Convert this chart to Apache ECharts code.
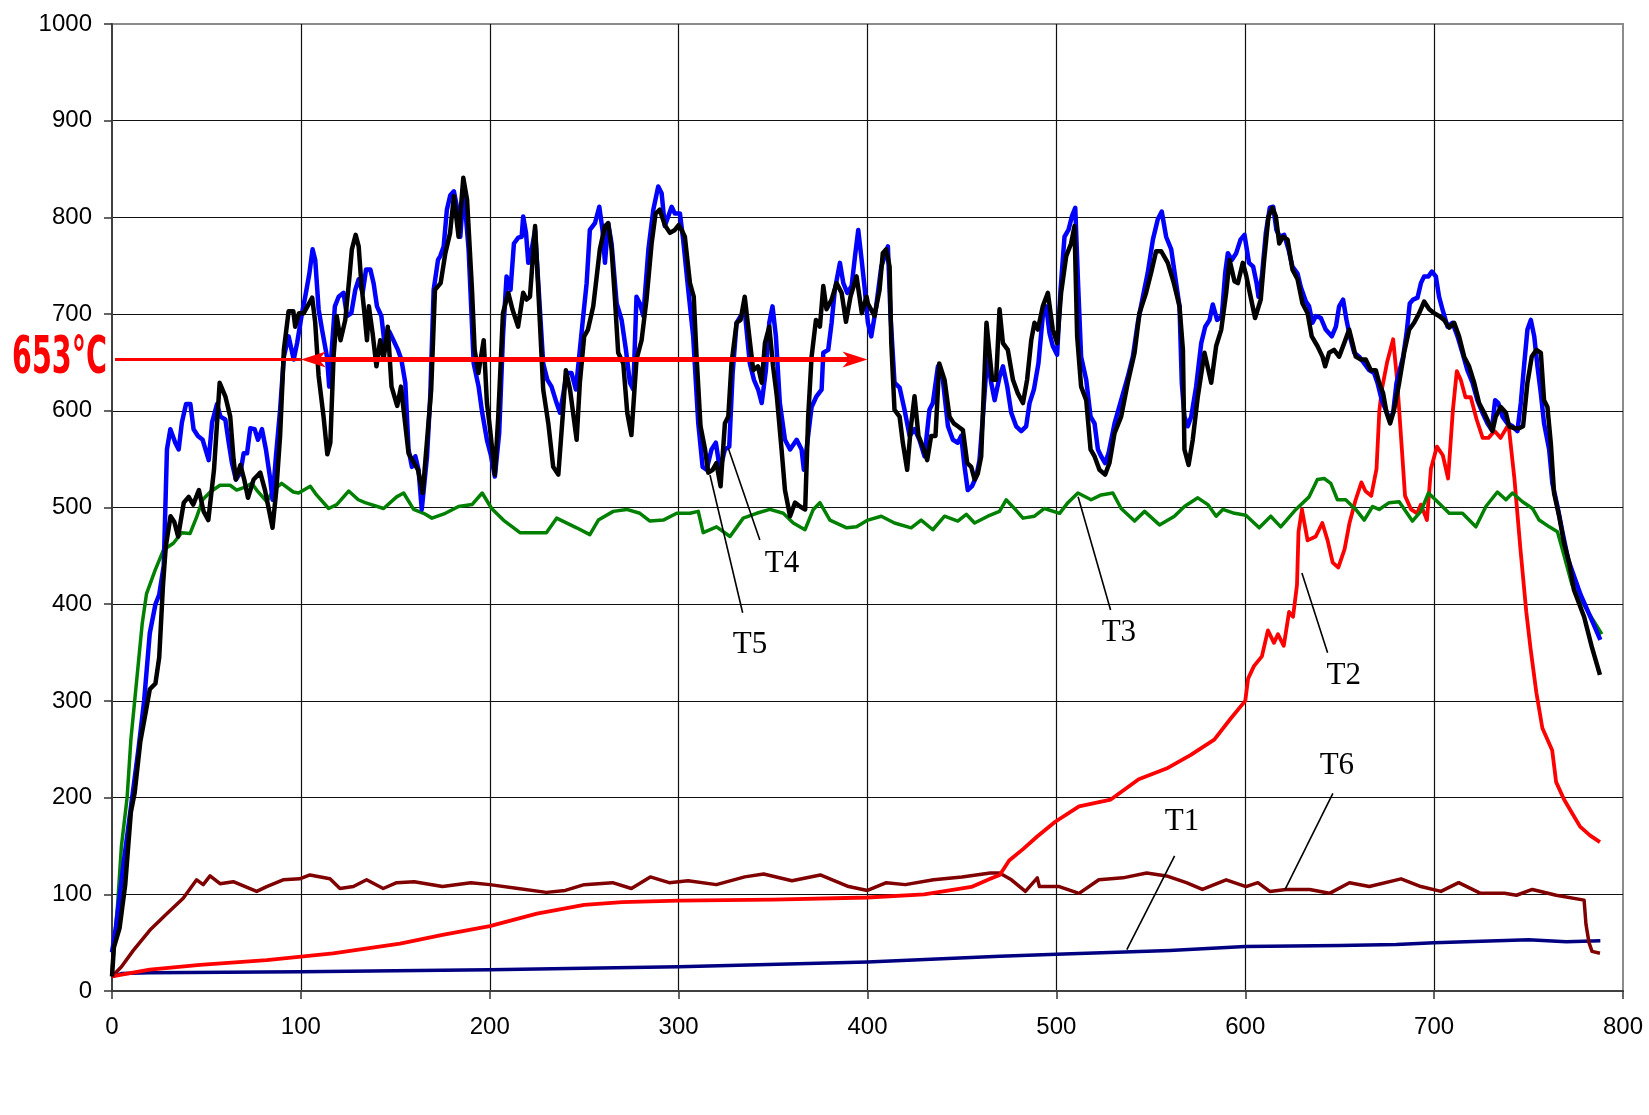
<!DOCTYPE html>
<html>
<head>
<meta charset="utf-8">
<title>Temperature record</title>
<script src="https://cdn.jsdelivr.net/npm/echarts@6/dist/echarts.min.js"></script>
<style>
  html, body { margin: 0; padding: 0; background: #fff; }
  #chart { width: 1649px; height: 1115px; }
</style>
</head>
<body>
<div id="chart"></div>
<script>
// Axis ranges and ticks (time in s, temperature in °C)
const X_TICKS = [0, 100, 200, 300, 400, 500, 600, 700, 800];
const Y_TICKS = [0, 100, 200, 300, 400, 500, 600, 700, 800, 900, 1000];

// Thermocouple readings: [time, temperature]
const T1 = [[0,15],[5,18],[20,19],[100,20],[200,22],[300,25],[400,30],[470,36],[500,38],[560,42],[600,46],[650,47],[680,48],[700,50],[750,53],[770,51],[788,52]];

const T6 = [[0,15],[5,25],[11.3,42],[20.1,63],[29,80],[37.7,96],[44.8,115],[48.3,110],[51.9,119],[57.2,111],[64.2,113],[76.6,103],[81.9,108],[90.6,115],[99.4,116],[104.8,120],[115.4,116],[120.7,106],[127.8,108],[134.8,115],[143.6,106],[150.7,112],[160,113],[175,108],[190,112],[200,110],[215,106],[230,102],[240,104],[250,110],[265,112],[275,106],[285,118],[295,112],[305,114],[320,110],[335,118],[345,121],[360,114],[375,120],[390,108],[400,104],[410,112],[420,110],[435,115],[450,118],[465,122],[469.9,122],[476.2,115],[483.6,103],[489.9,117],[491,108],[501.5,108],[512,101],[522.5,115],[535.2,117],[547.8,122],[558.3,119],[568.8,112],[577.3,105],[589.9,115],[600.4,108],[606.7,112],[613,103],[621.5,105],[634.1,105],[644.6,101],[655.2,112],[665.7,108],[682.5,116],[693,108],[703.6,103],[713,112],[724.6,101],[737.3,101],[743.6,99],[752,105],[764.6,99],[779.4,94],[780.4,69],[782,50],[783.6,41],[787.8,39]];

const T2 = [[0,15],[20,22],[46.6,27],[81.9,32],[117,39],[152.5,49],[175,58],[200,67],[225,80],[250,89],[270,92],[300,93.5],[350,94.5],[400,96.7],[430,100],[455,107.6],[465,116],[470,120],[475,135],[482.5,147],[490,160],[499.4,175],[512,191],[528.8,198],[543.6,219],[558.3,230],[571,244],[583.6,260],[592,281],[600,300],[601.5,323],[604.6,336],[608.8,346],[612,373],[615.2,360],[617.3,369],[620.4,357],[623.2,392],[625.3,387],[627.4,420],[628.2,475],[630,498],[633,466],[637.3,470],[640.8,484],[643.6,466],[646.3,443],[649.3,438],[652.6,457],[655.2,484],[658.3,507],[661.5,526],[663.6,517],[666.7,512],[669.5,540],[671,600],[672.4,623],[675.2,651],[678.3,674],[680.4,632],[683,558],[684.6,512],[687.8,498],[691,494],[693,503],[696.2,487],[698.3,540],[701.5,563],[704.6,554],[707.4,530],[709.9,600],[712,641],[714.1,632],[716.6,614],[719.4,614],[722.5,591],[725.7,572],[728.8,572],[732,579],[735.2,572],[739.4,586],[742.5,530],[745.7,457],[748.8,392],[751,355],[754.1,309],[757.3,272],[762.5,249],[764.6,216],[768.8,198],[773,184],[777.3,170],[782.5,161],[787.8,154]];

const T3 = [[0,20],[3,90],[5,150],[8,200],[10,260],[13,320],[16,380],[18.3,411],[22.8,435],[27.2,456],[32.5,463],[36.9,474],[41.3,473],[44.8,490],[48,508],[52,516],[57.2,523],[62.5,523],[66,518],[70.4,521],[74,525],[76.6,518],[81.9,506],[85.4,518],[89.8,525],[96,516],[98.8,515],[105,522],[108.3,513],[114.7,499],[119,503],[125.3,517],[130.4,508],[134,505],[143.8,499],[150.7,511],[154.4,515],[159.7,498],[165,494],[169.4,489],[176.5,494],[183.5,501],[190.6,503],[196,515],[201,499],[207.2,487],[216,474],[223,474],[230,474],[235.4,489],[246,479],[253,472],[257.5,487],[265.4,496],[272.5,498],[279.5,494],[284.8,486],[291.9,487],[299,494],[306,494],[310.4,496],[313,474],[320.1,480],[327.2,470],[334.2,489],[341.3,494],[348.3,498],[355.4,494],[360.7,484],[366.9,477],[371.3,498],[374.8,505],[380.1,487],[389,479],[394.2,480],[400.2,487],[407.3,491],[414.3,484],[423.1,479],[428.4,487],[434.6,477],[440.8,491],[447.8,486],[452.3,493],[456.7,484],[463.7,491],[469.9,496],[473.4,508],[477.8,499],[482.3,489],[488.4,491],[493.7,499],[501.7,494],[506.1,505],[511.4,515],[518.4,508],[523.7,513],[529.9,515],[534.3,499],[541.4,486],[546.7,496],[554.6,482],[562.5,491],[567.8,501],[574.9,510],[580.2,503],[584.6,491],[588.1,498],[594.3,494],[600.3,492],[607.4,479],[613.5,491],[618.8,480],[626.8,498],[633.8,511],[638.2,529],[641.8,530],[645.3,525],[648.8,508],[653.2,508],[658.5,498],[663,487],[667.4,501],[670.9,498],[676.2,505],[681.5,506],[688.5,486],[693,496],[697,515],[701.8,506],[708,494],[715,494],[722.1,480],[727.4,501],[733.5,516],[738,508],[741.5,515],[746.8,506],[752.1,499],[755.6,487],[761,480],[765.3,475],[768,456],[773,420],[781.5,392],[788.8,369]];

const T4 = [[0,40],[2,65],[6,130],[10,190],[14,250],[17,300],[20,370],[23,400],[25,410],[27.4,440],[29.1,560],[30.9,581],[33.5,567],[35.3,560],[37,588],[39.2,607],[41.5,607],[43.2,581],[45.5,574],[48,570],[51.2,549],[53,588],[55.6,607],[57.4,594],[60,591],[61.8,567],[63.5,546],[65.6,529],[68,536],[69.7,556],[71.5,556],[73.2,582],[75.5,581],[77.3,570],[79.4,581],[81.5,560],[83.8,529],[85,508],[86.8,553],[89,601],[91,656],[93.5,677],[96.2,653],[98,670],[100.6,701],[102.3,718],[104.5,742],[106.2,767],[107.6,756],[109.4,705],[111.2,684],[113.8,656],[115,625],[116.5,667],[118,708],[120,718],[122.6,722],[124.4,698],[126.7,701],[128.8,725],[130.6,736],[132.7,722],[134.5,746],[136.8,746],[138.5,732],[140.3,708],[142.6,698],[144.7,663],[146.8,682],[149,673],[151.4,663],[153.2,653],[155.3,629],[157,560],[158.8,542],[160.6,553],[162.3,539],[164,498],[166.8,553],[168.5,615],[170.3,725],[172.6,756],[173.8,760],[175.6,770],[177.3,808],[179.1,823],[181,827],[182.6,811],[184.4,780],[186.2,829],[188.8,767],[191.5,649],[194.1,625],[196,598],[198.5,570],[200.5,555],[202.7,532],[205,577],[207,677],[208.9,739],[211,725],[212.8,773],[215.1,779],[216.9,780],[217.7,801],[219.2,784],[220.4,753],[222.2,767],[224,787],[225.7,732],[228.3,649],[230.5,632],[232.7,625],[235.4,608],[237.2,598],[239,618],[240.7,639],[243.3,639],[245.6,622],[247.7,663],[249.5,698],[251.3,732],[253,787],[255.7,794],[258,811],[259.7,787],[261,753],[262.7,794],[264.5,773],[267.2,711],[269.8,694],[272.1,663],[274.2,629],[276,622],[277.7,718],[279.5,711],[281.3,698],[284,767],[286.6,808],[289.2,832],[291,825],[292.7,791],[294.5,801],[296.3,811],[298,804],[300.7,804],[302.4,777],[305.1,725],[307.7,677],[310.4,587],[312.7,542],[314.8,539],[317.4,560],[319.7,567],[321.9,539],[324.5,560],[326.8,563],[328.6,639],[330.7,691],[332.8,698],[335.1,701],[337.7,649],[339.9,632],[342.1,622],[344,608],[346.2,642],[348,691],[349.7,708],[351.5,677],[353.6,608],[356.3,570],[359,560],[362.5,570],[365.1,560],[366.3,539],[367.7,560],[370.4,604],[373,615],[375.7,622],[376.6,660],[379.2,663],[381,691],[382.7,725],[385.4,753],[387.2,732],[389.3,722],[391.6,729],[393.4,760],[395.1,787],[396.9,756],[398.6,725],[400.2,691],[402,677],[404.6,708],[407.3,749],[410.8,770],[412.2,698],[414.3,629],[417,624],[419.6,601],[422.3,574],[424.9,581],[427.5,570],[430.2,553],[432.8,601],[434.6,608],[437.3,646],[439.9,632],[442.6,584],[445.2,570],[447.8,567],[449.6,574],[451.4,542],[453.1,518],[455.3,522],[457.6,532],[459.3,549],[461.1,594],[463.4,656],[465.5,629],[467.3,611],[469.9,635],[471.7,646],[474,625],[476.1,598],[478.7,584],[481.4,579],[484,584],[485.8,608],[488.1,622],[490.5,649],[492.8,698],[494.6,708],[496.4,680],[498.1,667],[500.4,658],[502.2,725],[504.3,780],[506.4,787],[508.2,801],[510,810],[511.4,736],[513.1,656],[515.8,632],[518.1,594],[520.2,587],[522,560],[523.7,553],[525.8,546],[527.6,556],[530.8,587],[534.3,611],[537.8,635],[540.5,656],[543.1,691],[545.8,718],[548.4,743],[551.1,777],[553.7,798],[555.8,806],[558.1,780],[560.8,767],[563.4,732],[565.2,708],[566.4,629],[567.8,594],[569.6,584],[571.4,594],[574,625],[576.7,670],[578.8,687],[581.1,694],[582.8,710],[585.1,694],[587.6,698],[589.4,743],[590.8,763],[592.9,756],[595.2,763],[597.5,777],[599.6,782],[602,753],[604.2,749],[606,732],[607,718],[608.8,739],[610.9,784],[613,810],[614.8,811],[616.5,787],[618.3,780],[620.6,782],[622.9,767],[625,749],[627.7,742],[629.4,728],[632.1,713],[633.8,708],[635.6,691],[637.4,698],[640,696],[642.6,684],[645.8,677],[648,687],[649.7,708],[651.8,715],[653.6,694],[655.4,677],[657.7,660],[660.3,656],[663,649],[665.6,642],[668.2,639],[670,629],[672.3,611],[674.4,601],[676.5,591],[678.3,598],[680.1,629],[681.8,642],[683.6,656],[685.4,680],[687.1,711],[688.9,715],[691.2,717],[693,732],[694.7,739],[697,739],[698.8,744],[700.9,739],[702.6,718],[704.4,705],[707.1,687],[709.7,691],[712.4,677],[715,660],[717.6,642],[720.3,629],[722.9,611],[725.6,598],[728.2,587],[730.5,580],[732.3,611],[734,608],[736.2,594],[738.8,587],[741.5,584],[744.1,579],[745.9,608],[747.6,646],[749.4,684],[751.2,694],[753,677],[754.7,646],[756.5,618],[758.2,587],[760.9,560],[762.6,525],[765.3,501],[768,474],[771,446],[777.5,410],[783.6,383],[788,363]];

const T5 = [[0,15],[1,45],[4,65],[7,110],[10,185],[12,205],[15,258],[18,290],[20,312],[23,318],[25,345],[27,420],[28.5,460],[31,491],[33,485],[35,470],[38,505],[40.6,511],[43,503],[46,518],[48.5,496],[51,487],[54,539],[57,629],[60,615],[62.6,594],[64.4,549],[65.6,529],[68,544],[70,529],[72,510],[75,529],[78.5,536],[81,518],[85,479],[87,518],[89,574],[91,663],[93.5,703],[96,703],[97,687],[99,701],[101.5,701],[106,717],[107.6,691],[109.4,636],[112,594],[114,555],[115.6,567],[117.3,656],[119,698],[121,673],[123.5,694],[125.6,736],[127,767],[129,782],[130.6,770],[132,732],[133.8,698],[135,673],[136,708],[138,680],[140,646],[142,673],[143.8,653],[146,687],[148,625],[151,605],[153,625],[157,556],[160,546],[162,539],[164.5,515],[167,574],[169,622],[171,725],[174,732],[176.5,763],[179,784],[181,822],[183.5,780],[186,841],[188,818],[190.6,725],[192,663],[194,639],[196.8,673],[198.5,608],[200,584],[202.7,534],[204.5,594],[207,701],[209.8,722],[212,705],[215,687],[217.7,722],[219.5,715],[221.3,718],[224,791],[225.7,725],[228.3,622],[231,587],[233.6,542],[236.3,534],[238.6,594],[240.3,642],[242.5,622],[246,570],[247.7,629],[250,677],[252,684],[254.8,708],[258.3,767],[261,791],[262.7,794],[264.5,767],[266.3,715],[268,660],[270.7,649],[272.8,598],[275,575],[277.7,653],[280.4,673],[283,715],[285.7,773],[287.8,804],[290,808],[292.7,792],[295.4,784],[298,787],[300,792],[301.6,787],[303.3,780],[306,732],[308,718],[309.5,656],[311.6,584],[314,560],[315.7,536],[318,539],[320,546],[322.2,522],[324.5,587],[326.3,594],[328,649],[330.7,691],[332.8,694],[335,718],[337.4,677],[339.5,642],[342,646],[344,629],[345.7,670],[348,687],[350,646],[352,615],[354.5,560],[356.3,518],[359,491],[361.6,505],[364.3,501],[367,498],[368.6,594],[370.4,656],[372.7,694],[374.8,687],[376.6,729],[378.3,705],[381,715],[383.6,732],[386.3,722],[388.6,692],[391,718],[394.2,739],[397,701],[399.5,718],[400.2,711],[403.7,698],[406.4,725],[408.1,763],[409.9,767],[411.7,749],[412.6,670],[414.3,601],[417,594],[418.7,567],[421,539],[423,584],[424.9,615],[427,574],[429.3,563],[431.6,549],[433.7,574],[436,574],[438,649],[440.8,632],[443.4,594],[445.7,587],[447.8,584],[450.5,580],[452.8,546],[454.9,542],[456.7,529],[458.4,535],[460.2,553],[463,691],[464,692],[466,632],[468.1,632],[469.9,705],[471.7,670],[474.3,663],[477,632],[479.6,618],[482.3,608],[484.5,632],[486.7,673],[488.4,691],[490.2,684],[492.8,708],[495.5,722],[498.1,684],[500.4,670],[502.5,722],[505.2,760],[507.8,773],[509.6,791],[511,677],[513.1,625],[515.8,611],[518.1,560],[520.2,553],[522.8,539],[525.8,534],[528.1,546],[530.8,577],[534.3,594],[537.8,629],[541.4,660],[544,701],[547.5,722],[550.2,743],[552.8,765],[555.5,765],[559,753],[562.2,732],[565.2,708],[567,663],[567.8,560],[570,544],[572.2,570],[574.9,615],[578.4,660],[582,629],[584.6,667],[587.3,684],[589.9,722],[591.7,756],[594.3,734],[596.1,732],[598.7,753],[600.5,740],[602.4,722],[605.2,696],[608.2,715],[610,756],[612.3,801],[614.4,810],[616.2,801],[618,773],[620,780],[622.4,777],[625,746],[627.7,736],[630.3,711],[633,701],[635.2,677],[638.2,667],[640.9,656],[642.3,646],[644.4,660],[647,663],[649.7,656],[652.4,670],[655,684],[656.8,670],[658.5,656],[661.2,653],[663.8,653],[666.5,642],[669.1,642],[670.9,629],[673,618],[674.8,598],[676.7,587],[678.8,601],[681.5,629],[684.1,660],[686.8,684],[689.4,691],[692.1,701],[694.7,713],[697.4,705],[700,701],[702.6,698],[705.3,694],[708,686],[710.6,691],[713.2,677],[715.9,656],[718.5,646],[721.2,629],[723.8,608],[726.5,598],[729.1,587],[730.9,579],[732.6,594],[735.3,604],[738,598],[739.7,584],[742.4,582],[745,582],[747.1,584],[749.4,629],[751.7,656],[754.2,663],[756.5,660],[758.2,611],[760,604],[761.8,566],[763.5,515],[766.2,491],[768.8,463],[771.5,443],[774,415],[779.4,387],[783.6,355],[787.8,327]];

// Reference temperature marked with a double arrow, and the time span it covers
const REF_TEMP = 653;
const REF_SPAN = [100, 400];

// Series labels with leader lines, in axis units: [lineFromX, lineFromY, lineToX, lineToY, textX, textY]
const LABELS = [
  { name: 'T5', at: [316.6, 533.6, 333.9, 391.2, 337.8, 357.8] },
  { name: 'T4', at: [326.3, 561.2, 343.0, 466.4, 354.7, 441.6] },
  { name: 'T3', at: [511.5, 511.2, 528.7, 394.0, 533.1, 370.2] },
  { name: 'T2', at: [630.0, 432.3, 643.6, 349.8, 652.2, 325.7] },
  { name: 'T6', at: [621.1, 105.2, 646.4, 204.4, 648.5, 232.7] },
  { name: 'T1', at: [537.3, 42.8, 562.6, 139.8, 566.5, 174.8] }
];

const chart = echarts.init(document.getElementById('chart'), null, { renderer: 'canvas' });

function lineSeries(name, data, color, width) {
  return {
    name, type: 'line', data,
    showSymbol: false, symbol: 'none',
    lineStyle: { color, width, join: 'round' },
    itemStyle: { color },
    silent: true, animation: false
  };
}

// Leader lines and series names
function renderLabel(params, api) {
  const p1 = api.coord([api.value(0), api.value(1)]);
  const p2 = api.coord([api.value(2), api.value(3)]);
  const pt = api.coord([api.value(4), api.value(5)]);
  return {
    type: 'group',
    children: [
      { type: 'line', shape: { x1: p1[0], y1: p1[1], x2: p2[0], y2: p2[1] },
        style: { stroke: '#000', lineWidth: 1.6 } },
      { type: 'text', x: pt[0], y: pt[1],
        style: { text: LABELS[params.dataIndex].name, fill: '#000',
                 font: '31px "Liberation Serif", "Times New Roman", serif',
                 align: 'center', verticalAlign: 'middle' } }
    ]
  };
}

// The value label is a tall, narrow bold figure; squeeze it horizontally to its box width
const REF_FONT = 'bold 52px "Liberation Sans Narrow", "DejaVu Sans Condensed", "Liberation Sans", sans-serif';
const REF_TEXT_WIDTH = 95;
function squeezeFor(text, font, width) {
  const ctx = document.createElement('canvas').getContext('2d');
  ctx.font = font;
  const w = ctx.measureText(text).width;
  return w > 0 ? Math.min(1, width / w) : 1;
}

// Double arrow at the reference temperature, with its value written left of the axis
function renderArrow(params, api) {
  const v = api.value(0);
  const a = api.coord([0, v]);
  const l = api.coord([api.value(1), v]);
  const r = api.coord([api.value(2), v]);
  const y = l[1];
  const hl = 25, hw = 8, notch = 18;
  const txt = v + '°C';
  return {
    type: 'group',
    children: [
      { type: 'line', shape: { x1: a[0] + 3, y1: y, x2: l[0], y2: y },
        style: { stroke: '#ff0000', lineWidth: 3 } },
      { type: 'line', shape: { x1: l[0] + notch, y1: y, x2: r[0] - notch, y2: y },
        style: { stroke: '#ff0000', lineWidth: 5 } },
      { type: 'polygon', shape: { points: [[l[0], y], [l[0] + hl, y - hw], [l[0] + notch, y], [l[0] + hl, y + hw]] },
        style: { fill: '#ff0000' } },
      { type: 'polygon', shape: { points: [[r[0], y], [r[0] - hl, y - hw], [r[0] - notch, y], [r[0] - hl, y + hw]] },
        style: { fill: '#ff0000' } },
      { type: 'text', x: a[0] - 5, y: y, scaleX: squeezeFor(txt, REF_FONT, REF_TEXT_WIDTH),
        style: { text: txt, fill: '#ff0000', font: REF_FONT,
                 align: 'right', verticalAlign: 'middle' } }
    ]
  };
}

const axisFont = { fontFamily: '"Liberation Sans", Arial, sans-serif', fontSize: 24, color: '#000' };

chart.setOption({
  backgroundColor: '#fff',
  animation: false,
  grid: {
    left: 112, right: 26, top: 24, bottom: 124,
    show: true, borderColor: '#8c8c8c', borderWidth: 2, backgroundColor: '#fff'
  },
  xAxis: {
    type: 'value', min: X_TICKS[0], max: X_TICKS[X_TICKS.length - 1], interval: 100,
    axisLine: { show: true, onZero: false, lineStyle: { color: '#404040', width: 2 } },
    axisTick: { show: true, inside: false, length: 8, lineStyle: { color: '#333', width: 1.5 } },
    axisLabel: Object.assign({ margin: 24, formatter: v => String(v) }, axisFont),
    splitLine: { show: true, showMinLine: false, showMaxLine: false, lineStyle: { color: '#111', width: 1.2 } }
  },
  yAxis: {
    type: 'value', min: Y_TICKS[0], max: Y_TICKS[Y_TICKS.length - 1], interval: 100,
    axisLine: { show: true, onZero: false, lineStyle: { color: '#404040', width: 2 } },
    axisTick: { show: true, inside: false, length: 8, lineStyle: { color: '#333', width: 1.5 } },
    axisLabel: Object.assign({ margin: 20, formatter: v => String(v) }, axisFont),
    splitLine: { show: true, showMinLine: false, showMaxLine: false, lineStyle: { color: '#111', width: 1.2 } }
  },
  series: [
    lineSeries('T1', T1, '#000080', 3.5),
    lineSeries('T6', T6, '#800000', 3.5),
    lineSeries('T2', T2, '#ff0000', 3.8),
    lineSeries('T3', T3, '#008000', 3.5),
    lineSeries('T4', T4, '#0000ff', 4.5),
    lineSeries('T5', T5, '#000000', 4.5),
    {
      type: 'custom', name: 'ref', coordinateSystem: 'cartesian2d',
      data: [[REF_TEMP, REF_SPAN[0], REF_SPAN[1]]],
      renderItem: renderArrow, silent: true, clip: false, z: 5
    },
    {
      type: 'custom', name: 'labels', coordinateSystem: 'cartesian2d',
      data: LABELS.map(d => d.at),
      renderItem: renderLabel, silent: true, clip: false, z: 6
    }
  ]
});
</script>
</body>
</html>
